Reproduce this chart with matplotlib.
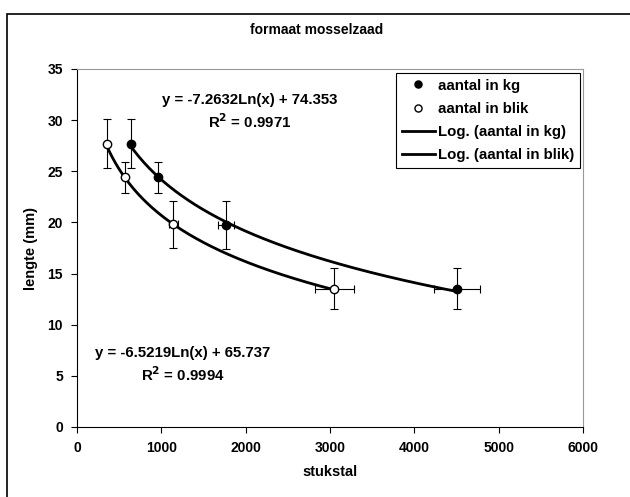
import matplotlib
matplotlib.use('Agg')
import matplotlib.pyplot as plt
import matplotlib.patches as patches
import numpy as np

plt.rcParams['font.family'] = ['Liberation Sans', 'DejaVu Sans']
plt.rcParams['font.weight'] = 'bold'

# aantal in kg
kg_x = [640, 957, 1764, 4504]
kg_y = [27.7, 24.4, 19.75, 13.5]
kg_xerr = [0, 0, 95, 270]
kg_yerr = [2.4, 1.5, 2.3, 2.0]

# aantal in blik
blik_x = [352, 566, 1143, 3052]
blik_y = [27.7, 24.4, 19.8, 13.5]
blik_xerr = [0, 0, 50, 235]
blik_yerr = [2.4, 1.5, 2.3, 2.0]

# trendline coefficients (y = a*ln(x) + b)
kg_fit = (-7.2632, 74.353)
blik_fit = (-6.5219, 65.737)

labels = ['aantal in kg', 'aantal in blik', 'Log. (aantal in kg)', 'Log. (aantal in blik)']

fig = plt.figure(figsize=(6.3, 4.97), dpi=100)
fig.patches.append(patches.Rectangle((7 / 630, -0.1), 1.2, 1.1 - 14 / 497,
                                     transform=fig.transFigure, fill=False,
                                     edgecolor='black', linewidth=1.2))
ax = fig.add_axes([77 / 630, 70 / 497, 506 / 630, 358 / 497])

ax.errorbar(kg_x, kg_y, xerr=kg_xerr, yerr=kg_yerr, fmt='none', ecolor='black',
            elinewidth=0.8, capsize=3, capthick=0.8, zorder=2)
ax.errorbar(blik_x, blik_y, xerr=blik_xerr, yerr=blik_yerr, fmt='none', ecolor='black',
            elinewidth=0.8, capsize=3, capthick=0.8, zorder=2)

xs = np.linspace(min(kg_x), max(kg_x), 200)
l1, = ax.plot(xs, kg_fit[0] * np.log(xs) + kg_fit[1], color='black', lw=2, zorder=3)
xs = np.linspace(min(blik_x), max(blik_x), 200)
l2, = ax.plot(xs, blik_fit[0] * np.log(xs) + blik_fit[1], color='black', lw=2, zorder=3)

p1, = ax.plot(kg_x, kg_y, 'o', color='black', markersize=6, ls='none', zorder=4)
p2, = ax.plot(blik_x, blik_y, 'o', markerfacecolor='white', markeredgecolor='black',
              markersize=6, ls='none', zorder=4)

ax.set_xlim(0, 6000)
ax.set_ylim(0, 35)
ax.set_xticks(range(0, 6001, 1000))
ax.set_yticks(range(0, 36, 5))
ax.tick_params(direction='out', length=4, width=0.8, labelsize=10, pad=6)
for s in ['top', 'right']:
    ax.spines[s].set_color('#999999')
for s in ['left', 'bottom']:
    ax.spines[s].set_color('black')

ax.set_xlabel('stukstal', fontsize=10.5, fontweight='bold', labelpad=7)
ax.set_ylabel('lengte (mm)', fontsize=10.5, fontweight='bold', labelpad=7)
fig.text(317 / 630, 1 - 30 / 497, 'formaat mosselzaad', ha='center', va='center',
         fontsize=10, fontweight='bold')

ax.text(2052, 32.0, 'y = -7.2632Ln(x) + 74.353', ha='center', va='center',
        fontsize=10.8, fontweight='bold')
ax.text(2052, 29.9, 'R$^2$ = 0.9971', ha='center', va='center', fontsize=10.8, fontweight='bold')
ax.text(1257, 7.2, 'y = -6.5219Ln(x) + 65.737', ha='center', va='center',
        fontsize=10.8, fontweight='bold')
ax.text(1257, 5.1, 'R$^2$ = 0.9994', ha='center', va='center', fontsize=10.8, fontweight='bold')

leg = ax.legend([p1, p2, l1, l2], labels,
                loc='upper right', bbox_to_anchor=(0.994, 0.99), fancybox=False,
                edgecolor='black', fontsize=10.8, handlelength=2.2, handletextpad=0.2,
                borderpad=0.4, labelspacing=0.62, borderaxespad=0, framealpha=1,
                markerscale=0.85)
leg.get_frame().set_linewidth(0.8)
for t in leg.get_texts():
    t.set_fontweight('bold')

plt.savefig('out.png', dpi=100)
